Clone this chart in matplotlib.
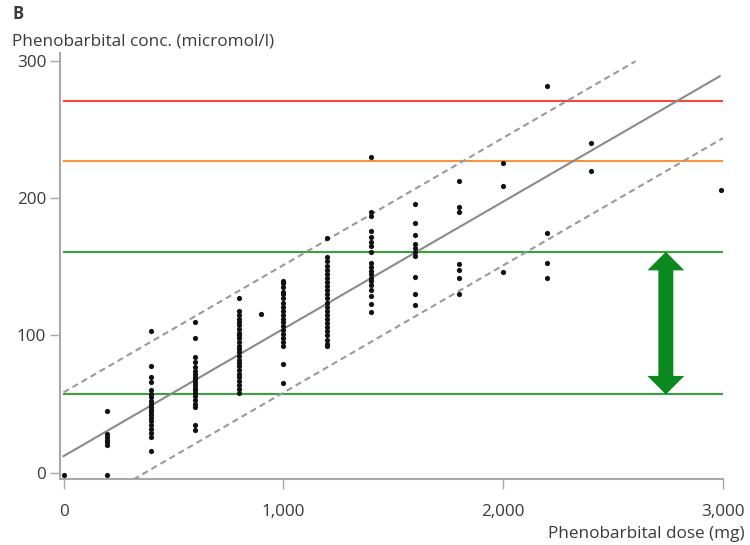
import matplotlib
matplotlib.use("Agg")
import matplotlib.pyplot as plt
from matplotlib.patches import Polygon
import numpy as np

plt.rcParams['font.family'] = ['Open Sans', 'DejaVu Sans']

doses = [0, 200, 400, 600, 800, 900, 1000, 1200, 1400, 1600, 1800, 2000, 2200, 2400, 2990]
conc = [
    [-2],
    [45, 28, 26, 24, 22, 20, -2],
    [103, 78, 70, 66, 60, 57, 55, 52, 50, 48, 46, 44, 42, 40, 38, 35, 32, 29, 26, 16],
    [110, 98, 84, 81, 77, 74, 72, 70, 68, 66, 64, 62, 60, 58, 56, 53, 50, 48, 35, 31],
    [127, 118, 115, 112, 110, 108, 105, 102, 100, 98, 95, 92, 90, 88, 85, 82, 80, 78,
     75, 72, 70, 67, 64, 61, 58],
    [116],
    [140, 138, 135, 132, 130, 127, 124, 121, 118, 115, 112, 110, 107, 104, 101, 98, 95, 92, 79, 65],
    [171, 157, 154, 151, 148, 145, 142, 139, 136, 133, 130, 127, 124, 121, 118, 115, 112,
     109, 106, 103, 100, 97, 94, 92],
    [230, 190, 187, 176, 172, 168, 165, 161, 153, 150, 147, 145, 142, 140, 137, 133, 129, 123, 117],
    [196, 182, 173, 167, 164, 161, 158, 143, 130, 122],
    [213, 194, 190, 152, 148, 142, 130],
    [226, 209, 146],
    [282, 175, 153, 142],
    [240, 220],
    [206],
]

# regression line and prediction band
intercept = 12.0
slope = 0.0928
band = 46.5

# reference levels (micromol/l)
level_red = 271
level_orange = 227
level_green_hi = 161
level_green_lo = 57
arrow_dose = 2740

x_ticks = [0, 1000, 2000, 3000]
x_ticklabels = ['0', '1,000', '2,000', '3,000']
y_ticks = [0, 100, 200, 300]

text_col = '#3a3a3a'
spine_col = '#a8a8a8'

fig = plt.figure(figsize=(7.5, 5.45), dpi=100)
ax = fig.add_axes([0.08, 0.1202, 0.884, 0.7826])

xmin, xmax = -16, 3000
ymin, ymax = -5, 306

# horizontal reference lines
ax.plot([0, 3000], [level_red] * 2, color='#f0463c', lw=1.5, zorder=2)
ax.plot([0, 3000], [level_orange] * 2, color='#f7943c', lw=1.5, zorder=2)
ax.plot([0, 3000], [level_green_hi] * 2, color='#3ca03c', lw=1.5, zorder=2)
ax.plot([0, 3000], [level_green_lo] * 2, color='#3ca03c', lw=1.5, zorder=2)

# regression line
xr = np.array([0, 2985])
ax.plot(xr, intercept + slope * xr, color='#8a8a8a', lw=1.5, zorder=3)
# upper band: stops at 300
x_up_end = (300 - intercept - band) / slope
xu = np.array([0, x_up_end])
ax.plot(xu, intercept + band + slope * xu, color='#9a9a9a', lw=1.5,
        dashes=(3, 2), zorder=3)
# lower band: starts at bottom of axes
x_lo_start = (ymin - intercept + band) / slope
xl = np.array([x_lo_start, 3000])
ax.plot(xl, intercept - band + slope * xl, color='#9a9a9a', lw=1.5,
        dashes=(3, 2), zorder=3)

# data points
for d, vals in zip(doses, conc):
    ax.scatter([d] * len(vals), vals, s=14, color='#111111', zorder=4,
               linewidths=0, clip_on=False)

# double arrow between the green lines, one filled outline
shaft_hw, head_hw, head_len = 34, 84, 13.5
hi, lo, xa = level_green_hi, level_green_lo, arrow_dose
outline = [
    (xa, hi),
    (xa + head_hw, hi - head_len), (xa + shaft_hw, hi - head_len),
    (xa + shaft_hw, lo + head_len), (xa + head_hw, lo + head_len),
    (xa, lo),
    (xa - head_hw, lo + head_len), (xa - shaft_hw, lo + head_len),
    (xa - shaft_hw, hi - head_len), (xa - head_hw, hi - head_len),
]
ax.add_patch(Polygon(outline, closed=True, facecolor='#0a8a1e',
                     edgecolor='none', zorder=5))

ax.set_xlim(xmin, xmax)
ax.set_ylim(ymin, ymax)

for s in ['top', 'right']:
    ax.spines[s].set_visible(False)
for s in ['left', 'bottom']:
    ax.spines[s].set_color(spine_col)
    ax.spines[s].set_linewidth(1.5)

ax.set_xticks(x_ticks)
ax.set_xticklabels(x_ticklabels)
ax.set_yticks(y_ticks)
ax.tick_params(direction='out', length=7, width=1.0, color=spine_col,
               labelcolor=text_col, labelsize=12.3)
ax.tick_params(axis='x', pad=11)
ax.tick_params(axis='y', pad=3)

fig.text(12 / 750, 1 - 14 / 545, 'B', fontsize=12, fontweight='bold',
         color=text_col, ha='left', va='center')
fig.text(12 / 750, 1 - 42 / 545, 'Phenobarbital conc. (micromol/l)',
         fontsize=12.3, color=text_col, ha='left', va='center')
fig.text(745 / 750, 1 - 534 / 545, 'Phenobarbital dose (mg)',
         fontsize=12.3, color=text_col, ha='right', va='center')

fig.savefig('out.png', dpi=100, facecolor='white')
